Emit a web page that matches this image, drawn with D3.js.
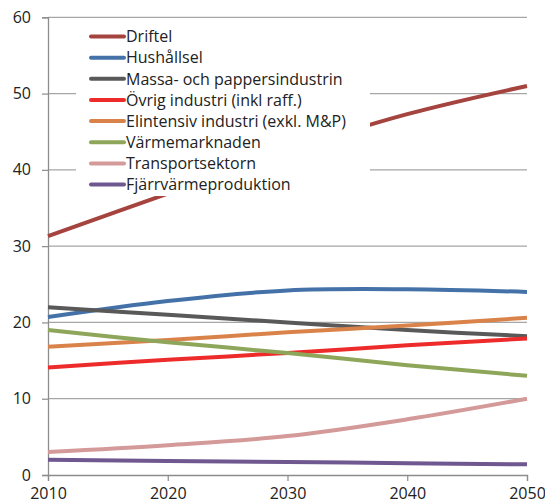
<!DOCTYPE html>
<html>
<head>
<meta charset="utf-8">
<script src="https://cdn.jsdelivr.net/npm/d3@7"></script>
<style>
  html, body { margin: 0; padding: 0; background: #fff; }
  svg { display: block; }
  text { font-family: "Open Sans", sans-serif; fill: #222; }
</style>
</head>
<body>
<svg id="chart" width="545" height="504"></svg>
<script>
const years = [2010, 2020, 2030, 2040, 2050];
const seriesNames = [
  "Driftel",
  "Hushållsel",
  "Massa- och pappersindustrin",
  "Övrig industri (inkl raff.)",
  "Elintensiv industri (exkl. M&P)",
  "Värmemarknaden",
  "Transportsektorn",
  "Fjärrvärmeproduktion"
];
const driftel     = [31.3, 36.9, 42.5, 47.3, 51.0];
const hushallsel  = [20.7, 22.8, 24.2, 24.35, 24.0];
const massa       = [22.0, 21.0, 20.0, 19.0, 18.2];
const ovrig       = [14.1, 15.1, 16.0, 17.0, 17.9];
const elintensiv  = [16.8, 17.7, 18.7, 19.6, 20.6];
const varme       = [19.0, 17.4, 16.0, 14.4, 13.0];
const transport   = [3.0, 3.9, 5.1, 7.3, 10.0];
const fjarrvarme  = [2.0, 1.85, 1.7, 1.55, 1.4];
const seriesValues = [driftel, hushallsel, massa, ovrig, elintensiv, varme, transport, fjarrvarme];
const colors = ["#A5443F", "#4472A8", "#595959", "#EE2B2B", "#D9834A", "#8EA65A", "#D49A99", "#6F5790"];
const yTicks = [0, 10, 20, 30, 40, 50, 60];
const xTicks = [2010, 2020, 2030, 2040, 2050];

const svg = d3.select("#chart");
const x = d3.scaleLinear().domain([2010, 2050]).range([48, 527]);
const y = d3.scaleLinear().domain([0, 60]).range([475, 17.3]);

// gridlines
svg.append("g")
  .selectAll("line").data(yTicks.filter(d => d > 0)).join("line")
  .attr("x1", x(2010)).attr("x2", x(2050))
  .attr("y1", d => y(d)).attr("y2", d => y(d))
  .attr("stroke", "#a6a6a6").attr("stroke-width", 1.2);

// y axis
const yAxis = svg.append("g").attr("transform", `translate(${x(2010)},0)`)
  .call(d3.axisLeft(y).tickValues(yTicks).tickSize(6).tickPadding(11));
yAxis.select(".domain").attr("stroke", "#8c8c8c").attr("stroke-width", 1.3);
yAxis.selectAll(".tick line").attr("stroke", "#8c8c8c").attr("stroke-width", 1.2);
yAxis.selectAll(".tick text").style("font-size", "16px").style("font-family", "'Open Sans', sans-serif").attr("fill", "#222");

// x axis
const xAxis = svg.append("g").attr("transform", `translate(0,${y(0)})`)
  .call(d3.axisBottom(x).tickValues(xTicks).tickFormat(d3.format("d")).tickSize(6));
xAxis.select(".domain").attr("stroke", "#8c8c8c").attr("stroke-width", 1.3);
xAxis.selectAll(".tick line").attr("stroke", "#8c8c8c").attr("stroke-width", 1.2);
xAxis.selectAll(".tick text")
  .attr("y", 24).attr("dy", null)
  .style("font-size", "16px").style("font-family", "'Open Sans', sans-serif").attr("fill", "#222");

// lines
const line = d3.line()
  .x((d, i) => x(years[i]))
  .y(d => y(d))
  .curve(d3.curveCatmullRom.alpha(0.5));

svg.append("g").selectAll("path").data(seriesValues).join("path")
  .attr("d", d => line(d))
  .attr("fill", "none")
  .attr("stroke", (d, i) => colors[i])
  .attr("stroke-width", 4)
  .attr("stroke-linecap", "butt");

// legend
const lg = svg.append("g");
lg.append("rect").attr("x", 76).attr("y", 21).attr("width", 294).attr("height", 175).attr("fill", "#fff");
const rows = lg.selectAll("g.row").data(seriesNames).join("g")
  .attr("class", "row")
  .attr("transform", (d, i) => `translate(0,${36.5 + i * 21.15})`);
rows.append("line").attr("x1", 91).attr("x2", 124).attr("y1", 0).attr("y2", 0)
  .attr("stroke", (d, i) => colors[i]).attr("stroke-width", 4).attr("stroke-linecap", "round");
rows.append("text").attr("x", 126).attr("y", 0).attr("dy", "0.36em")
  .style("font-size", "16px").text(d => d);
</script>
</body>
</html>
